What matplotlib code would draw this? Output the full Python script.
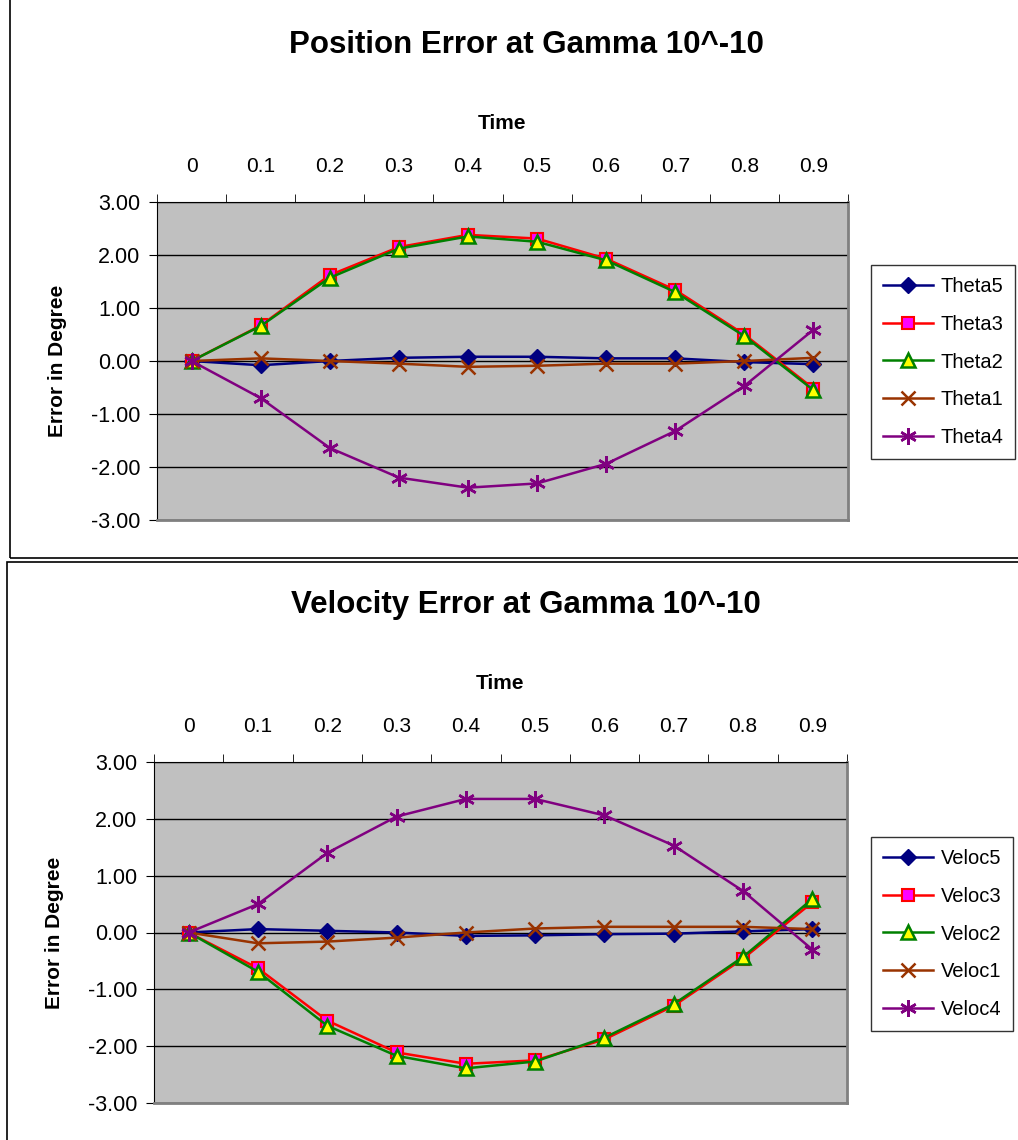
import numpy as np
import matplotlib
matplotlib.use("Agg")
import matplotlib.pyplot as plt
from matplotlib.patches import Rectangle

plt.rcParams['font.family'] = ['Liberation Sans', 'DejaVu Sans']

times = ['0', '0.1', '0.2', '0.3', '0.4', '0.5', '0.6', '0.7', '0.8', '0.9']
y_ticks = [3, 2, 1, 0, -1, -2, -3]

# position error (degrees)
theta5 = [0, -0.08, 0.0, 0.06, 0.08, 0.08, 0.05, 0.05, -0.02, -0.06]
theta3 = [0, 0.67, 1.62, 2.15, 2.38, 2.31, 1.93, 1.34, 0.50, -0.52]
theta2 = [0, 0.66, 1.57, 2.12, 2.35, 2.25, 1.90, 1.30, 0.47, -0.55]
theta1 = [0, 0.05, 0.0, -0.05, -0.11, -0.09, -0.05, -0.05, 0.0, 0.06]
theta4 = [0, -0.70, -1.64, -2.20, -2.39, -2.31, -1.94, -1.32, -0.47, 0.59]

# velocity error (degrees)
veloc5 = [0, 0.06, 0.03, 0.0, -0.06, -0.05, -0.03, -0.02, 0.02, 0.06]
veloc3 = [0, -0.63, -1.55, -2.11, -2.31, -2.25, -1.88, -1.29, -0.46, 0.53]
veloc2 = [0, -0.69, -1.64, -2.17, -2.39, -2.27, -1.85, -1.26, -0.43, 0.59]
veloc1 = [0, -0.19, -0.16, -0.09, 0.0, 0.07, 0.10, 0.10, 0.10, 0.06]
veloc4 = [0, 0.50, 1.40, 2.04, 2.35, 2.35, 2.06, 1.53, 0.73, -0.30]

W, H = 1018, 1140
fig = plt.figure(figsize=(W / 100, H / 100), dpi=100)


def fx(px):
    return px / W


def fy(py):
    return 1 - py / H


styles = [
    dict(color='#000080', marker='D', ms=8, mfc='#000080', mec='#000080'),
    dict(color='#FF0000', marker='s', ms=8.5, mfc='#FF00FF', mec='#FF0000', mew=1.5),
    dict(color='#008000', marker='^', ms=10, mfc='#FFFF00', mec='#008000', mew=1.8),
    dict(color='#993300', marker='x', ms=10, mew=1.8),
    dict(color='#800080', marker=(6, 2, 0), ms=12, mew=1.8),
]


def draw_chart(box, plot, title, title_y, names, series, legend_top):
    # outer chart frame
    bx0, by0, bx1, by1 = box
    fig.patches.append(Rectangle((fx(bx0), fy(by1)), fx(bx1 - bx0), (by1 - by0) / H,
                                 transform=fig.transFigure, fill=False,
                                 edgecolor='black', lw=1.2))
    px0, py0, px1, py1 = plot
    ax = fig.add_axes([fx(px0), fy(py1), fx(px1 - px0), (py1 - py0) / H])
    ax.set_facecolor('#C0C0C0')
    x = np.arange(len(times))
    lines = []
    for name, vals, st in zip(names, series, styles):
        l, = ax.plot(x, vals, lw=1.8, label=name, **st)
        lines.append(l)
    ax.set_xlim(-0.5, len(times) - 0.5)
    ax.set_ylim(-3, 3)
    ax.set_yticks(y_ticks)
    ax.set_yticklabels(['%.2f' % v for v in y_ticks], fontsize=15.5)
    ax.yaxis.grid(True, color='black', lw=1)
    ax.set_axisbelow(True)
    ax.xaxis.tick_top()
    ax.xaxis.set_label_position('top')
    ax.set_xticks(x)
    ax.set_xticklabels(times, fontsize=15)
    ax.set_xticks(np.arange(-0.5, len(times)), minor=True)
    ax.tick_params(axis='x', which='major', length=0, pad=19)
    ax.tick_params(axis='x', which='minor', length=6, direction='out')
    ax.tick_params(axis='y', length=6, direction='out', pad=6)
    ax.set_xlabel('Time', fontsize=15, fontweight='bold', labelpad=20)
    ax.set_ylabel('Error in Degree', fontsize=15, fontweight='bold', labelpad=17)
    for s in ['right', 'bottom']:
        ax.spines[s].set_color('#808080')
        ax.spines[s].set_linewidth(2)
    ax.spines['left'].set_color('black')
    ax.spines['top'].set_color('black')
    fig.text(fx(526), fy(title_y), title, ha='center', va='center',
             fontsize=22.5, fontweight='bold')
    leg = fig.legend(handles=lines, loc='upper left',
                     bbox_to_anchor=(fx(871), fy(legend_top)),
                     fontsize=14.5, frameon=True, fancybox=False,
                     handlelength=2.5, labelspacing=0.93,
                     borderpad=0.6, handletextpad=0.35, borderaxespad=0)
    leg.get_frame().set_edgecolor('black')
    leg.get_frame().set_linewidth(1)
    return ax


draw_chart((10, -5, 1030, 558), (157, 202, 848, 520),
           'Position Error at Gamma 10^-10', 45,
           ['Theta5', 'Theta3', 'Theta2', 'Theta1', 'Theta4'],
           [theta5, theta3, theta2, theta1, theta4], 265)

draw_chart((7, 562, 1030, 1145), (154, 762, 847, 1103),
           'Velocity Error at Gamma 10^-10', 605,
           ['Veloc5', 'Veloc3', 'Veloc2', 'Veloc1', 'Veloc4'],
           [veloc5, veloc3, veloc2, veloc1, veloc4], 837)

fig.savefig('out.png', dpi=100)
